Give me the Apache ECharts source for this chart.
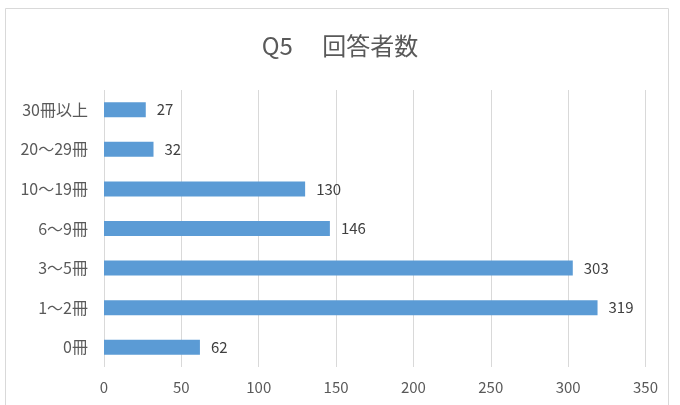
<!DOCTYPE html>
<html><head><meta charset="utf-8">
<script src="https://cdn.jsdelivr.net/npm/echarts@6/dist/echarts.min.js"></script>
<style>html,body{margin:0;padding:0;background:#fff}#c{width:680px;height:405px}</style>
</head><body><div id="c"></div>
<script>
const titleText = 'Q5　 回答者数';
const categories = ['0冊', '1～2冊', '3～5冊', '6～9冊', '10～19冊', '20～29冊', '30冊以上'];
const values = [62, 319, 303, 146, 130, 32, 27];
const xTicks = { min: 0, max: 350, interval: 50 };
const FONT = '"Noto Sans CJK JP", "Noto Sans", sans-serif';

const chart = echarts.init(document.getElementById('c'), null, { renderer: 'canvas' });
chart.setOption({
  animation: false,
  backgroundColor: '#ffffff',
  graphic: [{
    type: 'rect', shape: { x: 5.5, y: 8.5, width: 663, height: 420 },
    style: { fill: 'none', stroke: '#d9d9d9', lineWidth: 1 }, silent: true
  }],
  title: {
    text: titleText, left: 'center', top: 29,
    textStyle: { fontFamily: FONT, fontSize: 24, fontWeight: 'normal', color: '#595959' }
  },
  grid: { left: 104, right: 34.5, top: 90, bottom: 38, containLabel: false },
  xAxis: {
    type: 'value', min: xTicks.min, max: xTicks.max, interval: xTicks.interval,
    axisLine: { show: false }, axisTick: { show: false },
    splitLine: { show: true, lineStyle: { color: '#d9d9d9', width: 1 } },
    axisLabel: { fontFamily: FONT, fontSize: 15, color: '#595959', margin: 13 }
  },
  yAxis: {
    type: 'category', data: categories,
    axisLine: { show: false }, axisTick: { show: false },
    axisLabel: { fontFamily: FONT, fontSize: 16, color: '#595959', margin: 16 }
  },
  series: [{
    type: 'bar', data: values, barWidth: 15,
    itemStyle: { color: '#5b9bd5' },
    label: { show: true, position: 'right', distance: 11, fontFamily: FONT, fontSize: 15, color: '#404040' }
  }]
});
</script></body></html>
